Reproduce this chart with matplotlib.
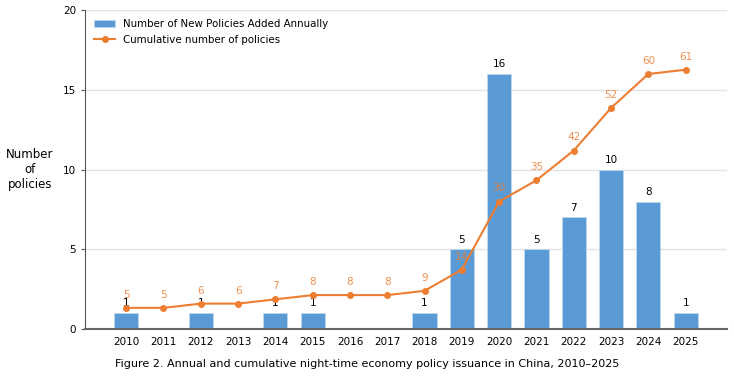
import numpy as np
import matplotlib.pyplot as plt

# data
years = ['2010', '2011', '2012', '2013', '2014', '2015', '2016', '2017',
         '2018', '2019', '2020', '2021', '2022', '2023', '2024', '2025']
new_policies = [1, 0, 1, 0, 1, 1, 0, 0, 1, 5, 16, 5, 7, 10, 8, 1]
cumulative = [5, 5, 6, 6, 7, 8, 8, 8, 9, 14, 30, 35, 42, 52, 60, 61]

blue = '#5B9BD5'
orange = '#ED7D31'

fig = plt.figure(figsize=(7.34, 3.77), dpi=100)
ax = fig.add_axes([0.116, 0.127, 0.874, 0.846])
x = np.arange(len(years))

bars = ax.bar(x, new_policies, width=0.65, color=blue, edgecolor='#BDD7EE',
              linewidth=0.6, zorder=2)
for xi, v in zip(x, new_policies):
    if v > 0:
        ax.text(xi, v + 0.3, str(v), ha='center', va='bottom', fontsize=7.5, color='black', zorder=5)

ax.set_xlim(-1.1, 16.1)
ax.set_ylim(0, 20)
ax.set_yticks([0, 5, 10, 15, 20])
ax.set_xticks(x)
ax.set_xticklabels(years)
ax.tick_params(axis='x', length=0, labelsize=7.5, pad=6)
ax.tick_params(axis='y', length=3, labelsize=7.5, color='#555555')
ax.yaxis.grid(True, color='#E3E3E3', linewidth=1, zorder=0)
ax.set_axisbelow(True)
for s in ['top', 'right']:
    ax.spines[s].set_visible(False)
ax.spines['left'].set_color('#555555')
ax.spines['bottom'].set_color('#666666')
ax.spines['bottom'].set_linewidth(1.5)
ax.set_ylabel('Number\nof\npolicies', rotation=0, fontsize=8.5, ha='center', va='center')
ax.yaxis.set_label_coords(-0.086, 0.5)

ax2 = ax.twinx()
ax2.set_ylim(0, 75)
ax2.axis('off')
line, = ax2.plot(x, cumulative, color=orange, marker='o', markersize=4, linewidth=1.5, zorder=3)
for xi, v in zip(x, cumulative):
    ax2.text(xi, v + 1.9, str(v), ha='center', va='bottom', fontsize=7.5, color=orange, alpha=0.85, zorder=4)

ax.legend([bars, line], ['Number of New Policies Added Annually', 'Cumulative number of policies'],
          loc='upper left', bbox_to_anchor=(0.0, 1.0), frameon=False, fontsize=7.4,
          handlelength=2.0, borderaxespad=0.5)

fig.text(0.5, 0.035, 'Figure 2. Annual and cumulative night-time economy policy issuance in China, 2010\u20132025',
         ha='center', va='center', fontsize=8)

fig.savefig('out.png', dpi=100)
